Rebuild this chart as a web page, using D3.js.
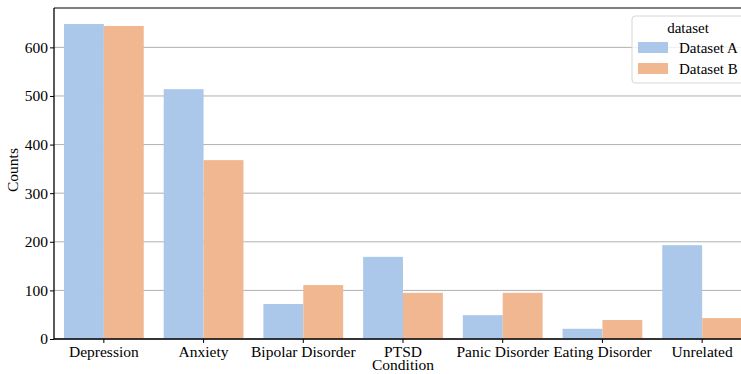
<!DOCTYPE html>
<html>
<head>
<meta charset="utf-8">
<script src="https://cdn.jsdelivr.net/npm/d3@7"></script>
<style>
    body { margin: 0; background: #fff; }
</style>
</head>
<body>
<div id="chart"></div>
<script>
const categories = ['Depression', 'Anxiety', 'Bipolar Disorder', 'PTSD', 'Panic Disorder', 'Eating Disorder', 'Unrelated'];
const seriesNames = ['Dataset A', 'Dataset B'];
const datasetA = [648, 514, 72, 169, 49, 21, 193];
const datasetB = [644, 368, 111, 95, 95, 39, 43];
const yTicks = [0, 100, 200, 300, 400, 500, 600];

const colors = ['#abc8eb', '#f0b791']; // pastel, desaturated like seaborn
const FONT = 'Liberation Serif';
const FS = 15.5;

const W = 741, H = 374;
const margin = { top: 8, right: -11, bottom: 35, left: 54 }; // plot runs past the right edge
const width = W - margin.left - margin.right,
      height = H - margin.top - margin.bottom;

const svg = d3.select('#chart').append('svg')
    .attr('width', W)
    .attr('height', H)
    .attr('font-family', FONT);

const g = svg.append('g')
    .attr('transform', `translate(${margin.left},${margin.top})`);

// Scales
const x = d3.scaleBand()
    .domain(categories)
    .range([0, width])
    .paddingInner(0.2)
    .paddingOuter(0.1);

const xInner = d3.scaleBand()
    .domain(seriesNames)
    .range([0, x.bandwidth()]);

const y = d3.scaleLinear()
    .domain([0, 681])
    .range([height, 0]);

// Grid lines
g.append('g')
    .selectAll('line')
    .data(yTicks)
    .enter().append('line')
    .attr('x1', 0)
    .attr('x2', width)
    .attr('y1', d => y(d))
    .attr('y2', d => y(d))
    .attr('stroke', '#b0b0b0')
    .attr('stroke-width', 1);

// Bars
const rows = categories.map((c, i) => ({ cat: c, values: [datasetA[i], datasetB[i]] }));

g.append('g')
    .selectAll('g')
    .data(rows)
    .enter().append('g')
    .attr('transform', d => `translate(${x(d.cat)},0)`)
    .selectAll('rect')
    .data(d => d.values.map((v, j) => ({ key: seriesNames[j], value: v, j: j })))
    .enter().append('rect')
    .attr('x', d => xInner(d.key))
    .attr('width', xInner.bandwidth())
    .attr('y', d => y(d.value))
    .attr('height', d => y(0) - y(d.value))
    .attr('fill', d => colors[d.j]);

// Top spine
g.append('line')
    .attr('x1', 0).attr('x2', width)
    .attr('y1', 0).attr('y2', 0)
    .attr('stroke', '#555')
    .attr('stroke-width', 1.5);

// Y axis
const yAxis = g.append('g')
    .call(d3.axisLeft(y).tickValues(yTicks).tickSize(4).tickPadding(2))
    .attr('font-family', FONT)
    .attr('font-size', FS);
yAxis.select('.domain').attr('stroke', '#000').attr('stroke-width', 1.3)
    .attr('d', `M0,${height}V0`);
yAxis.selectAll('text').attr('fill', '#000');

// X axis
const xAxis = g.append('g')
    .attr('transform', `translate(0,${height})`)
    .call(d3.axisBottom(x).tickSize(4).tickPadding(3))
    .attr('font-family', FONT)
    .attr('font-size', FS);
xAxis.select('.domain').attr('stroke', '#000').attr('stroke-width', 1.3)
    .attr('d', `M0,0H${width}`);
xAxis.selectAll('text').attr('fill', '#000');

// Axis labels
svg.append('text')
    .attr('transform', 'translate(18,170) rotate(-90)')
    .attr('text-anchor', 'middle')
    .attr('font-size', FS)
    .text('Counts');

svg.append('text')
    .attr('x', margin.left + x('PTSD') + x.bandwidth() / 2)
    .attr('y', 370)
    .attr('text-anchor', 'middle')
    .attr('font-size', FS)
    .text('Condition');

// Legend
const legend = svg.append('g')
    .attr('transform', 'translate(632,16)');

legend.append('rect')
    .attr('x', 0).attr('y', 0)
    .attr('width', 113).attr('height', 67)
    .attr('rx', 3)
    .attr('fill', '#fff')
    .attr('fill-opacity', 0.8)
    .attr('stroke', '#d6d6d6');

legend.append('text')
    .attr('x', 56).attr('y', 17)
    .attr('text-anchor', 'middle')
    .attr('font-size', 15)
    .text('dataset');

seriesNames.forEach((name, i) => {
    legend.append('rect')
        .attr('x', 6)
        .attr('y', 26 + i * 21)
        .attr('width', 30)
        .attr('height', 11)
        .attr('fill', colors[i]);
    legend.append('text')
        .attr('x', 47)
        .attr('y', 37 + i * 21)
        .attr('font-size', 15)
        .text(name);
});
</script>
</body>
</html>
